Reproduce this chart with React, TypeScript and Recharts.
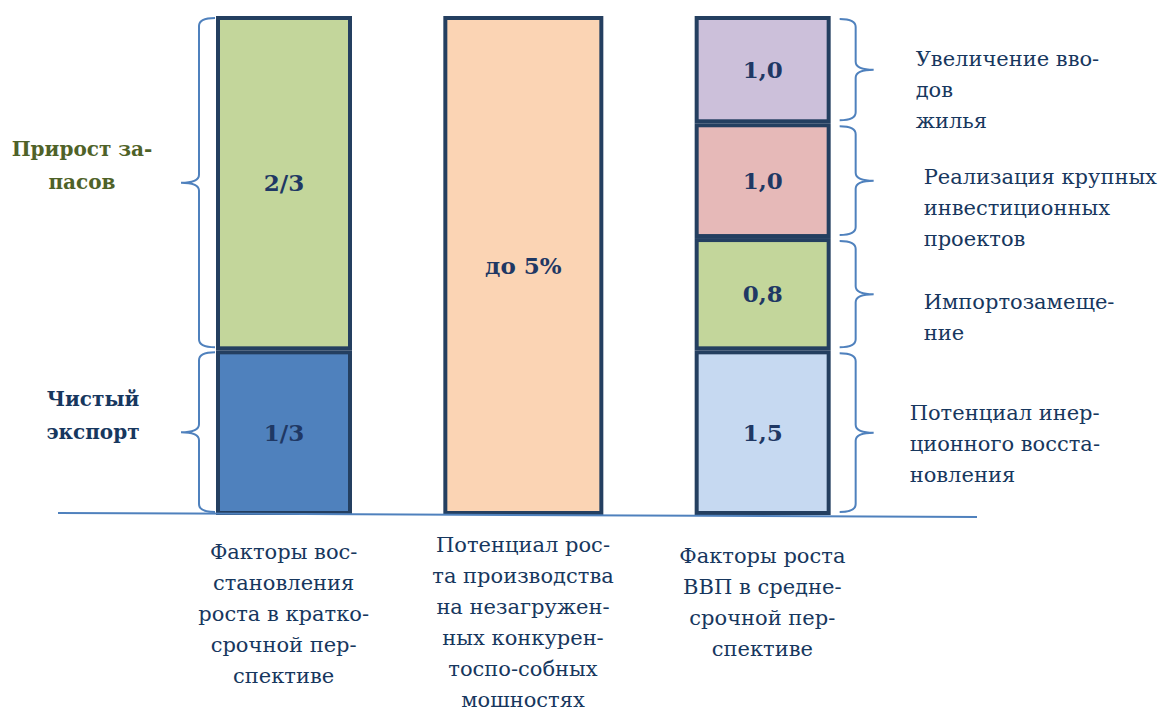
import React from "react";
import { BarChart, Bar, XAxis, YAxis, ReferenceLine, LabelList } from "recharts";

// three columns, each a stack of blocks (block heights as drawn, in % of column)
const categories = [
  "Факторы вос-\nстановления\nроста в кратко-\nсрочной пер-\nспективе",
  "Потенциал рос-\nта производства\nна незагружен-\nных конкурен-\nтоспо-собных\nмошностях",
  "Факторы роста\nВВП в средне-\nсрочной пер-\nспективе",
];
const block1 = [33, 100, 33];
const block2 = [67, 0, 22.5];
const block3 = [0, 0, 23];
const block4 = [0, 0, 21.5];

const block1Labels = ["1/3", "до 5%", "1,5"];
const block2Labels = ["2/3", "", "0,8"];
const block3Labels = ["", "", "1,0"];
const block4Labels = ["", "", "1,0"];

// side notes with braces: left of the first column, right of the third
const block1Notes = ["Чистый\nэкспорт", "", "Потенциал инер-\nционного восста-\nновления"];
const block2Notes = ["Прирост за-\nпасов", "", "Импортозамеще-\nние"];
const block3Notes = ["", "", "Реализация крупных\nинвестиционных\nпроектов"];
const block4Notes = ["", "", "Увеличение вво-\nдов\nжилья"];

const FILLS = [
  ["#4F81BD", "#FBD4B4", "#C6D9F1"],
  ["#C3D69B", "#FBD4B4", "#C3D69B"],
  ["#E6B9B8", "#E6B9B8", "#E6B9B8"],
  ["#CCC0DA", "#CCC0DA", "#CCC0DA"],
];
const LEFT_NOTE_COLORS = ["#17375E", "#4F6228"];
const LEFT_NOTE_DX = [-123, -134];
const RIGHT_NOTE_DX = [79, 93, 93, 85];
const RIGHT_NOTE_DY = [-13, 15, 3, -4];
const TICK_DY = [36, 29, 40];

const BORDER = "#243F60";
const BRACE = "#4F81BD";
const TEXT = "#17375E";
const SERIF = "'DejaVu Serif', 'Liberation Serif', serif";

const noteSets = [block1Notes, block2Notes, block3Notes, block4Notes];

const data = categories.map((name, i) => ({
  name,
  b1: block1[i],
  b2: block2[i],
  b3: block3[i],
  b4: block4[i],
  l1: block1Labels[i],
  l2: block2Labels[i],
  l3: block3Labels[i],
  l4: block4Labels[i],
}));

function bracePath(edge: number, top: number, bottom: number, dir: number) {
  const gap = dir < 0 ? 1 : 9;
  const x0 = edge + dir * gap;
  const xv = edge + dir * (gap + 16);
  const xt = xv + dir * 18;
  const mid = (top + bottom) / 2;
  const r = 8;
  return `M${x0},${top} Q${xv},${top} ${xv},${top + r} L${xv},${mid - r} Q${xv},${mid} ${xt},${mid} Q${xv},${mid} ${xv},${mid + r} L${xv},${bottom - r} Q${xv},${bottom} ${x0},${bottom}`;
}

const segmentShape = (s: number) => (props: any) => {
  const { x, y, width, height, index } = props;
  if (!height || height <= 0) return <g />;
  const widen = index === 1 ? 12 : 0;
  const bx = x - widen;
  const bw = width + widen * 2;
  const note = noteSets[s][index];
  const mid = y + height / 2;
  let side = null;
  if (note) {
    const lines = note.split("\n");
    if (index === 0) {
      const tx = bx + LEFT_NOTE_DX[s];
      side = (
        <g>
          <path d={bracePath(bx, y + 2, y + height - 3, -1)} fill="none" stroke={BRACE} strokeWidth={2} />
          <text x={tx} y={mid - 27} textAnchor="middle"
            style={{ fontFamily: SERIF, fontSize: 20, fontWeight: "bold" }} fill={LEFT_NOTE_COLORS[s]}>
            {lines.map((ln, k) => (
              <tspan key={k} x={tx} dy={k === 0 ? 0 : 33}>{ln}</tspan>
            ))}
          </text>
        </g>
      );
    } else {
      const tx = bx + bw + RIGHT_NOTE_DX[s];
      side = (
        <g>
          <path d={bracePath(bx + bw, y + 3, y + height - 3, 1)} fill="none" stroke={BRACE} strokeWidth={2} />
          <text x={tx} y={mid + RIGHT_NOTE_DY[s]} style={{ fontFamily: SERIF, fontSize: 21 }} fill={TEXT}>
            {lines.map((ln, k) => (
              <tspan key={k} x={tx} dy={k === 0 ? 0 : 31}>{ln}</tspan>
            ))}
          </text>
        </g>
      );
    }
  }
  return (
    <g>
      <rect x={bx + 2} y={y + 2} width={bw - 4} height={height - 4}
        fill={FILLS[s][index]} stroke={BORDER} strokeWidth={4} />
      {side}
    </g>
  );
};

const valueLabel = (props: any) => {
  const { x, y, width, height, value } = props;
  if (!value || !height) return null;
  return (
    <text x={x + width / 2} y={y + height / 2 + 8} textAnchor="middle"
      style={{ fontFamily: SERIF, fontSize: 23, fontWeight: "bold" }} fill="#1F3864">
      {value}
    </text>
  );
};

const CategoryTick = (props: any) => {
  const { x, y, payload, index } = props;
  const lines = String(payload.value).split("\n");
  return (
    <text x={x} y={y + TICK_DY[index]} textAnchor="middle" style={{ fontFamily: SERIF, fontSize: 21 }} fill={TEXT}>
      {lines.map((ln, k) => (
        <tspan key={k} x={x} dy={k === 0 ? 0 : 31}>{ln}</tspan>
      ))}
    </text>
  );
};

const baseline = (props: any) => {
  const { x1, y1, x2, y2 } = props;
  return <line x1={x1 - 106} y1={y1 - 2} x2={x2 + 95} y2={y2 + 2} stroke={BRACE} strokeWidth={2} />;
};

export default function App() {
  const keys = ["b1", "b2", "b3", "b4"];
  const lkeys = ["l1", "l2", "l3", "l4"];
  return (
    <div style={{ position: "absolute", left: 0, top: 0, background: "#fff" }}>
      <BarChart width={1162} height={711} data={data}
        margin={{ top: 16, right: 280, bottom: 0, left: 164 }} barCategoryGap={0}>
        <XAxis dataKey="name" axisLine={false} tickLine={false} height={196} interval={0} tick={<CategoryTick />} />
        <YAxis hide domain={[0, 100]} />
        <ReferenceLine y={0} ifOverflow="visible" shape={baseline} />
        {keys.map((k, s) => (
          <Bar key={k} dataKey={k} stackId="a" barSize={136} isAnimationActive={false} shape={segmentShape(s)}>
            <LabelList dataKey={lkeys[s]} content={valueLabel} />
          </Bar>
        ))}
      </BarChart>
    </div>
  );
}
